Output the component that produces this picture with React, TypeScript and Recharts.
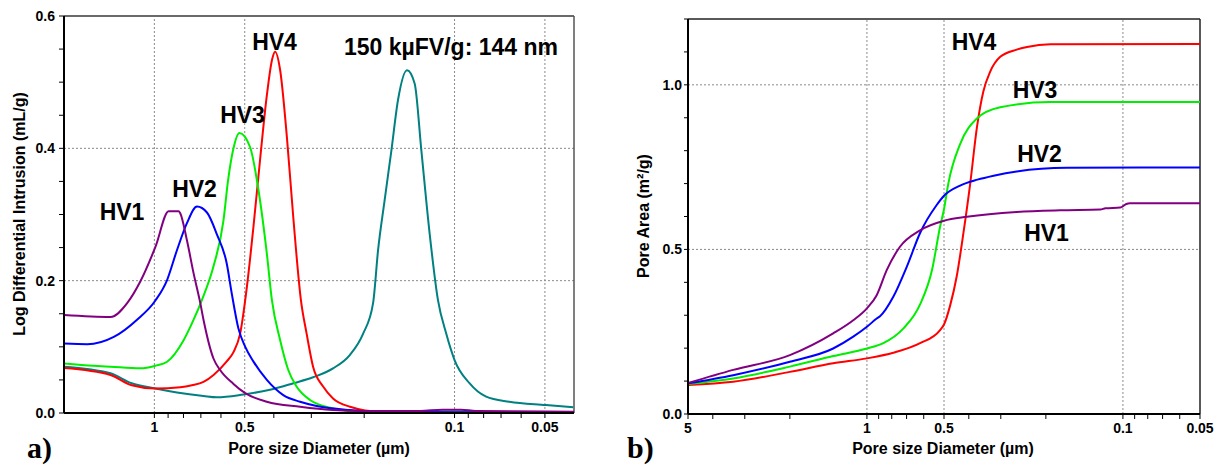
import React from 'react';
import { LineChart, Line, XAxis, YAxis, ReferenceLine } from 'recharts';

// ---------- Panel a) Log Differential Intrusion (mL/g) vs pore diameter (µm) ----------
const diffHV1: [number, number][] = [
  [2.0, 0.148], [1.4, 0.145], [1.232, 0.166], [1.113, 0.199], [0.992, 0.251], [0.896, 0.305],
  [0.83, 0.305], [0.82, 0.302], [0.779, 0.261], [0.74, 0.211], [0.703, 0.166], [0.686, 0.141],
  [0.635, 0.082], [0.604, 0.065], [0.545, 0.044], [0.498, 0.030], [0.422, 0.017], [0.327, 0.0095],
  [0.254, 0.0045], [0.2, 0.003], [0.13, 0.003], [0.11, 0.005], [0.095, 0.005], [0.085, 0.003], [0.04, 0.002],
];
const diffHV2: [number, number][] = [
  [2.0, 0.105], [1.673, 0.104], [1.365, 0.115], [1.142, 0.141], [0.992, 0.17], [0.907, 0.201],
  [0.841, 0.246], [0.779, 0.287], [0.721, 0.312], [0.668, 0.303], [0.619, 0.27], [0.574, 0.226],
  [0.552, 0.18], [0.525, 0.128], [0.498, 0.10], [0.468, 0.078], [0.422, 0.05], [0.372, 0.027],
  [0.327, 0.017], [0.288, 0.0106], [0.223, 0.0045], [0.18, 0.002], [0.1, 0.001], [0.04, 0.001],
];
const diffHV3: [number, number][] = [
  [2.0, 0.075], [1.591, 0.0715], [1.4, 0.070], [1.113, 0.0675], [0.992, 0.0715], [0.907, 0.0775],
  [0.799, 0.11], [0.74, 0.141], [0.694, 0.171], [0.635, 0.222], [0.589, 0.29], [0.568, 0.352],
  [0.545, 0.40], [0.521, 0.423], [0.48, 0.402], [0.45, 0.337], [0.422, 0.241], [0.406, 0.171],
  [0.381, 0.110], [0.358, 0.065], [0.336, 0.040], [0.303, 0.0197], [0.254, 0.007], [0.207, 0.002],
  [0.1, 0.002], [0.04, 0.001],
];
const diffHV4: [number, number][] = [
  [2.0, 0.068], [1.4, 0.0575], [1.19, 0.042], [0.992, 0.037], [0.82, 0.039], [0.75, 0.042],
  [0.686, 0.047], [0.635, 0.0575], [0.574, 0.078], [0.545, 0.092], [0.518, 0.12], [0.492, 0.19],
  [0.468, 0.28], [0.444, 0.385], [0.422, 0.48], [0.405, 0.535], [0.396, 0.546],
  [0.381, 0.518], [0.362, 0.418], [0.344, 0.292], [0.325, 0.171], [0.311, 0.12], [0.296, 0.07],
  [0.274, 0.04], [0.254, 0.022], [0.223, 0.0095], [0.177, 0.002], [0.1, 0.002], [0.04, 0.001],
];
const diff150k: [number, number][] = [
  [2.0, 0.070], [1.4, 0.060], [1.19, 0.045], [0.992, 0.037], [0.841, 0.031], [0.686, 0.0257],
  [0.619, 0.0237], [0.505, 0.028], [0.412, 0.035], [0.344, 0.045], [0.296, 0.054], [0.254, 0.0675],
  [0.223, 0.088], [0.2016, 0.12], [0.1868, 0.166], [0.1798, 0.246], [0.1709, 0.322], [0.1623, 0.397],
  [0.1543, 0.473], [0.144, 0.518], [0.1358, 0.498], [0.129, 0.397], [0.1211, 0.272], [0.1136, 0.171],
  [0.1066, 0.120], [0.1, 0.080], [0.0892, 0.045], [0.0785, 0.0247], [0.0657, 0.017], [0.0496, 0.012],
  [0.0402, 0.0086],
];

// ---------- Panel b) Pore Area (m²/g) vs pore diameter (µm) ----------
const areaHV1: [number, number][] = [
  [5, 0.094], [3.33, 0.134], [2.0, 0.179], [1.355, 0.245], [1.131, 0.285], [1.0, 0.321],
  [0.916, 0.361], [0.837, 0.437], [0.743, 0.508], [0.62, 0.558], [0.5, 0.587], [0.407, 0.599],
  [0.26, 0.614], [0.176, 0.619], [0.1225, 0.621], [0.117, 0.625], [0.1025, 0.627], [0.097, 0.638],
  [0.094, 0.640], [0.05, 0.640],
];
const areaHV2: [number, number][] = [
  [5, 0.093], [3.33, 0.118], [2.0, 0.159], [1.355, 0.199], [1.131, 0.235], [1.0, 0.265],
  [0.916, 0.29], [0.889, 0.297], [0.789, 0.356], [0.699, 0.447], [0.62, 0.55], [0.534, 0.635],
  [0.5, 0.663], [0.4325, 0.694], [0.37, 0.712], [0.32, 0.724], [0.26, 0.737], [0.1655, 0.748],
  [0.05, 0.749],
];
const areaHV3: [number, number][] = [
  [5, 0.091], [3.33, 0.108], [2.0, 0.144], [1.355, 0.176], [1.0, 0.199], [0.863, 0.215],
  [0.72, 0.26], [0.62, 0.333], [0.556, 0.44], [0.518, 0.569], [0.5, 0.622], [0.481, 0.70],
  [0.4325, 0.82], [0.372, 0.898], [0.3015, 0.932], [0.192, 0.948], [0.05, 0.948],
];
const areaHV4: [number, number][] = [
  [5, 0.088], [3.33, 0.098], [2.0, 0.128], [1.355, 0.154], [1.0, 0.169], [0.789, 0.186],
  [0.62, 0.215], [0.518, 0.255], [0.5, 0.272], [0.473, 0.33], [0.4455, 0.42], [0.4198, 0.55],
  [0.395, 0.70], [0.372, 0.87], [0.351, 0.98], [0.33, 1.04], [0.3015, 1.085], [0.26, 1.107],
  [0.237, 1.115], [0.192, 1.123], [0.05, 1.124],
];

// ---------- Axes ----------
const xTicksA = [1, 0.9, 0.8, 0.7, 0.6, 0.5, 0.4, 0.3, 0.2, 0.1, 0.09, 0.08, 0.07, 0.06, 0.05];
const xMajorA = [1, 0.5, 0.1, 0.05];
const yTicksA = [0, 0.05, 0.1, 0.15, 0.2, 0.25, 0.3, 0.35, 0.4, 0.45, 0.5, 0.55, 0.6];
const yMajorA = [0, 0.2, 0.4, 0.6];
const xTicksB = [5, 4, 3, 2, 1, 0.9, 0.8, 0.7, 0.6, 0.5, 0.4, 0.3, 0.2, 0.1, 0.09, 0.08, 0.07, 0.06, 0.05];
const xMajorB = [5, 1, 0.5, 0.1, 0.05];
const yTicksB = [0, 0.1, 0.2, 0.3, 0.4, 0.5, 0.6, 0.7, 0.8, 0.9, 1.0, 1.1, 1.2];
const yMajorB = [0, 0.5, 1.0];

const COLORS = { hv1: '#800080', hv2: '#0000ff', hv3: '#00ee00', hv4: '#ff0000', k150: '#008080' };

const toPts = (arr: [number, number][]) => arr.map(([d, v]) => ({ d, v }));
const isIn = (list: number[], v: number) => list.some((m) => Math.abs(m - v) < 1e-9);

const FONT = '"Liberation Sans", Arial, Helvetica, sans-serif';
const tickStyle = { fontSize: 14, fontWeight: 700, fill: '#000', fontFamily: FONT };
const gridProps = { stroke: '#8a8a8a', strokeDasharray: '2 2', strokeWidth: 1 };

export default function App() {
  return (
    <div style={{ position: 'absolute', left: 0, top: 0, width: 1223, height: 465, background: '#fff' }}>
      <div style={{ position: 'absolute', left: 0, top: 0 }}>
        <LineChart width={600} height={465} margin={{ top: 16, right: 26, bottom: 22, left: 0 }}>
          <XAxis
            dataKey="d"
            type="number"
            scale="log"
            domain={[0.04, 2]}
            reversed
            allowDataOverflow
            ticks={xTicksA}
            interval={0}
            tickFormatter={(v: number) => (isIn(xMajorA, v) ? String(v) : '')}
            tick={tickStyle}
            tickSize={5}
            tickMargin={4}
            height={30}
            axisLine={{ stroke: '#000', strokeWidth: 2 }}
            tickLine={{ stroke: '#000' }}
          />
          <YAxis
            type="number"
            domain={[0, 0.6]}
            allowDataOverflow
            ticks={yTicksA}
            interval={0}
            tickFormatter={(v: number) => (isIn(yMajorA, v) ? v.toFixed(1) : '')}
            tick={tickStyle}
            tickSize={5}
            tickMargin={4}
            width={64}
            axisLine={{ stroke: '#000', strokeWidth: 2 }}
            tickLine={{ stroke: '#000' }}
          />
          {[1, 0.5, 0.1, 0.05].map((x) => (
            <ReferenceLine key={'gx' + x} x={x} {...gridProps} />
          ))}
          {[0.2, 0.4].map((y) => (
            <ReferenceLine key={'gy' + y} y={y} {...gridProps} />
          ))}
          <ReferenceLine y={0.6} stroke="#6a6a6a" strokeWidth={2} />
          <ReferenceLine x={0.04} stroke="#555" strokeWidth={1.5} />
          <Line data={toPts(diff150k)} dataKey="v" type="monotone" stroke={COLORS.k150} strokeWidth={2} dot={false} isAnimationActive={false} />
          <Line data={toPts(diffHV4)} dataKey="v" type="monotone" stroke={COLORS.hv4} strokeWidth={2} dot={false} isAnimationActive={false} />
          <Line data={toPts(diffHV3)} dataKey="v" type="monotone" stroke={COLORS.hv3} strokeWidth={2} dot={false} isAnimationActive={false} />
          <Line data={toPts(diffHV2)} dataKey="v" type="monotone" stroke={COLORS.hv2} strokeWidth={2} dot={false} isAnimationActive={false} />
          <Line data={toPts(diffHV1)} dataKey="v" type="monotone" stroke={COLORS.hv1} strokeWidth={2} dot={false} isAnimationActive={false} />
        </LineChart>
      </div>
      <div style={{ position: 'absolute', left: 600, top: 0 }}>
        <LineChart width={623} height={465} margin={{ top: 19, right: 23, bottom: 21, left: 0 }}>
          <XAxis
            dataKey="d"
            type="number"
            scale="log"
            domain={[0.05, 5]}
            reversed
            allowDataOverflow
            ticks={xTicksB}
            interval={0}
            tickFormatter={(v: number) => (isIn(xMajorB, v) ? String(v) : '')}
            tick={tickStyle}
            tickSize={5}
            tickMargin={4}
            height={30}
            axisLine={{ stroke: '#000', strokeWidth: 2 }}
            tickLine={{ stroke: '#000' }}
          />
          <YAxis
            type="number"
            domain={[0, 1.2]}
            allowDataOverflow
            ticks={yTicksB}
            interval={0}
            tickFormatter={(v: number) => (isIn(yMajorB, v) ? v.toFixed(1) : '')}
            tick={tickStyle}
            tickSize={4}
            tickMargin={2}
            width={88}
            axisLine={{ stroke: '#000', strokeWidth: 2 }}
            tickLine={{ stroke: '#000' }}
          />
          {[1, 0.5, 0.1].map((x) => (
            <ReferenceLine key={'gx' + x} x={x} {...gridProps} />
          ))}
          {[0.5, 1.0].map((y) => (
            <ReferenceLine key={'gy' + y} y={y} {...gridProps} />
          ))}
          <ReferenceLine y={1.2} stroke="#222" strokeWidth={1.5} />
          <ReferenceLine x={0.05} stroke="#222" strokeWidth={1.5} />
          <Line data={toPts(areaHV4)} dataKey="v" type="monotone" stroke={COLORS.hv4} strokeWidth={2} dot={false} isAnimationActive={false} />
          <Line data={toPts(areaHV3)} dataKey="v" type="monotone" stroke={COLORS.hv3} strokeWidth={2} dot={false} isAnimationActive={false} />
          <Line data={toPts(areaHV2)} dataKey="v" type="monotone" stroke={COLORS.hv2} strokeWidth={2} dot={false} isAnimationActive={false} />
          <Line data={toPts(areaHV1)} dataKey="v" type="monotone" stroke={COLORS.hv1} strokeWidth={2} dot={false} isAnimationActive={false} />
        </LineChart>
      </div>
      <svg width={1223} height={465} style={{ position: 'absolute', left: 0, top: 0, pointerEvents: 'none' }}>
        <g fontFamily={FONT} fontWeight={700} fill="#000">
          <text x={122} y={220} fontSize={23} textAnchor="middle">HV1</text>
          <text x={194.5} y={197} fontSize={23} textAnchor="middle">HV2</text>
          <text x={242.5} y={123} fontSize={23} textAnchor="middle">HV3</text>
          <text x={274.5} y={50} fontSize={23} textAnchor="middle">HV4</text>
          <text x={451} y={55} fontSize={23} textAnchor="middle">150 kµFV/g: 144 nm</text>
          <text x={974} y={50} fontSize={23} textAnchor="middle">HV4</text>
          <text x={1035} y={98} fontSize={23} textAnchor="middle">HV3</text>
          <text x={1039.5} y={162} fontSize={23} textAnchor="middle">HV2</text>
          <text x={1046.5} y={241} fontSize={23} textAnchor="middle">HV1</text>
          <text x={319} y={454} fontSize={16} textAnchor="middle">Pore size Diameter (µm)</text>
          <text x={943} y={454} fontSize={16} textAnchor="middle">Pore size Diameter (µm)</text>
          <text x={25} y={214} fontSize={16} textAnchor="middle" transform="rotate(-90 25 214)">Log Differential Intrusion (mL/g)</text>
          <text x={649} y={216} fontSize={16} textAnchor="middle" transform="rotate(-90 649 216)">Pore Area (m²/g)</text>
        </g>
        <g fontFamily='"Liberation Serif", "Times New Roman", serif' fontWeight={700} fill="#000">
          <text x={27} y={458} fontSize={30}>a)</text>
          <text x={627} y={458} fontSize={30}>b)</text>
        </g>
      </svg>
    </div>
  );
}
